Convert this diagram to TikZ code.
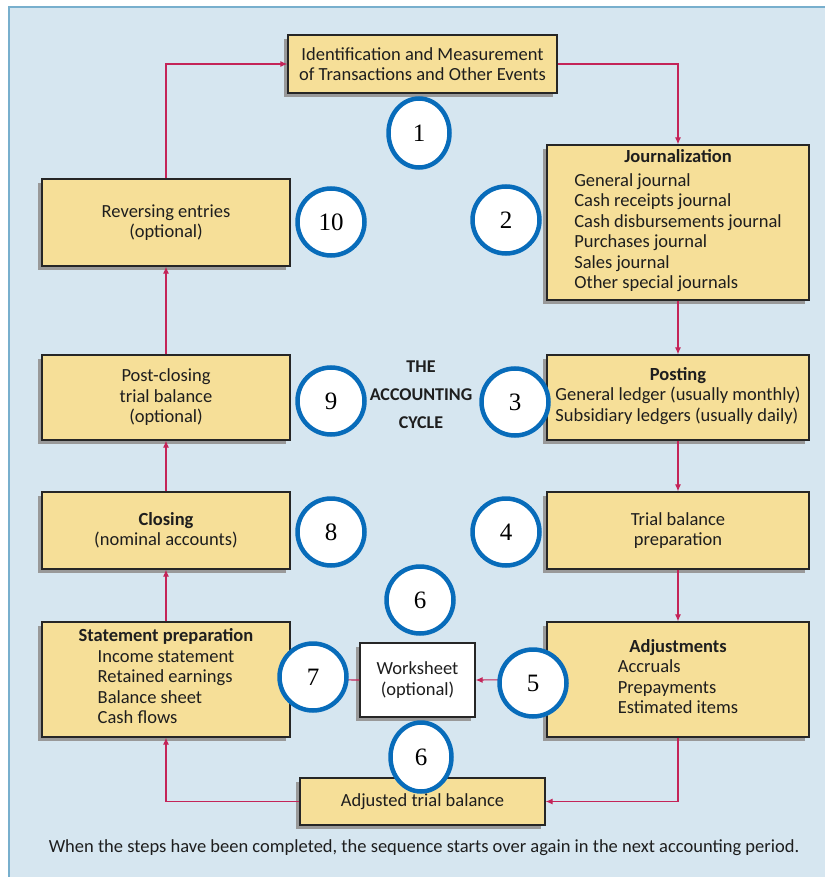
\documentclass[tikz,border=0pt]{standalone}
\usepackage{fontspec}
\setmainfont{Carlito}
\newfontfamily\numfont{Liberation Serif}
\usetikzlibrary{arrows.meta,shadows,shapes.geometric}

\definecolor{bgblue}{RGB}{214,230,240}
\definecolor{frameblue}{RGB}{120,175,205}
\definecolor{boxtan}{RGB}{246,223,152}
\definecolor{ringblue}{RGB}{8,108,186}
\definecolor{flowred}{RGB}{196,36,88}
\definecolor{inkgrey}{RGB}{30,30,30}

\begin{document}
\begin{tikzpicture}[x=1pt,y=-1pt,
		stage/.style={draw=black!85, line width=1.2pt, fill=boxtan, text=inkgrey, align=center, inner sep=0pt,
			font=\fontsize{18.5}{20.5}\selectfont,
			drop shadow={shadow xshift=-4pt, shadow yshift=-4pt, fill=black!40, opacity=1}},
		sheet/.style={stage, fill=white},
		num/.style={circle, draw=ringblue, line width=4.5pt, fill=white, minimum size=67pt, inner sep=0pt,
			font=\numfont\fontsize{25}{25}\selectfont},
		numtall/.style={num, ellipse, minimum width=61pt, minimum height=69pt},
		flow/.style={draw=flowred, line width=1.1pt, -{Latex[length=7pt,width=6pt]}},
		link/.style={draw=flowred, line width=1.1pt}]

		\useasboundingbox (0,0) rectangle (825,877);
		\fill[white] (0,0) rectangle (825,877);
		\fill[bgblue] (9,7) rectangle (825,877);
		\draw[frameblue, line width=1.5pt] (9,877) -- (9,7) -- (825,7);

		% the ten steps
		\node[stage, minimum width=269pt, minimum height=58pt] (ident) at (422.5,64)
			{Identification and Measurement\\of Transactions and Other Events};
		\node[stage, minimum width=262pt, minimum height=155pt] (journ) at (678,222.5)
			{\textbf{Journalization}\\[3pt]
			\begin{tabular}[t]{@{}l@{}}General journal\\Cash receipts journal\\Cash disbursements journal\\
			Purchases journal\\Sales journal\\Other special journals\end{tabular}};
		\node[stage, minimum width=262pt, minimum height=85pt] (post) at (678,397.5)
			{\textbf{Posting}\\
			\begin{tabular}[t]{@{}l@{}}General ledger (usually monthly)\\Subsidiary ledgers (usually daily)\end{tabular}};
		\node[stage, minimum width=262pt, minimum height=77pt] (trial) at (678,530.5)
			{Trial balance\\preparation};
		\node[stage, minimum width=262pt, minimum height=115pt] (adj) at (678,679.5)
			{\textbf{Adjustments}\\
			\begin{tabular}[t]{@{}l@{}}Accruals\\Prepayments\\Estimated items\end{tabular}};
		\node[sheet, minimum width=115pt, minimum height=74pt] (work) at (417.5,680)
			{Worksheet\\(optional)};
		\node[stage, minimum width=245pt, minimum height=47pt] (atb) at (422.5,801.5)
			{Adjusted trial balance};
		\node[stage, minimum width=248pt, minimum height=115pt] (stmt) at (166,679.5)
			{\textbf{Statement preparation}\\
			\begin{tabular}[t]{@{}l@{}}Income statement\\Retained earnings\\Balance sheet\\Cash flows\end{tabular}};
		\node[stage, minimum width=248pt, minimum height=77pt] (close) at (166,530.5)
			{\textbf{Closing}\\(nominal accounts)};
		\node[stage, minimum width=248pt, minimum height=85pt] (pclose) at (166,397.5)
			{Post-closing\\trial balance\\(optional)};
		\node[stage, minimum width=248pt, minimum height=87pt] (rev) at (166,222.5)
			{Reversing entries\\(optional)};

		\node[font=\bfseries\fontsize{18}{28}\selectfont, text=inkgrey, align=center] (title) at (421,395)
			{THE\\ACCOUNTING\\CYCLE};

		% connectors
		\draw[flow] (rev.north) |- (ident.west);
		\draw[flow] (ident.east) -| (journ.north);
		\draw[flow] (journ) -- (post);
		\draw[flow] (post) -- (trial);
		\draw[flow] (trial) -- (adj);
		\draw[flow] (adj.south) |- (atb.east);
		\draw[flow] (atb.west) -| (stmt.south);
		\draw[flow] (stmt) -- (close);
		\draw[flow] (close) -- (pclose);
		\draw[flow] (pclose) -- (rev);
		\draw[flow] (adj.west) -- (work.east);
		\draw[link] (work.west) -- (stmt.east);

		% step numbers
		\node[numtall] (n1) at (419,133) {1};
		\node[num] (n2) at (506,220) {2};
		\node[num] (n3) at (515,402) {3};
		\node[num] (n4) at (506,532) {4};
		\node[num] (n5) at (533,683) {5};
		\node[num] (n6a) at (420,600) {6};
		\node[numtall] (n6b) at (421,757) {6};
		\node[num] (n7) at (313,677) {7};
		\node[num] (n8) at (331,532) {8};
		\node[num] (n9) at (331,401) {9};
		\node[num] (n10) at (331,222) {10};

		\node[font=\fontsize{18.5}{20}\selectfont, text=inkgrey] (note) at (424,848)
			{When the steps have been completed, the sequence starts over again in the next accounting period.};

\end{tikzpicture}
\end{document}
